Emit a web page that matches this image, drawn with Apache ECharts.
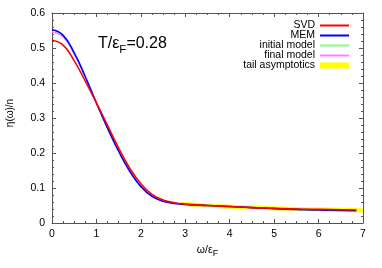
<!DOCTYPE html>
<html><head><meta charset="utf-8">
<script src="https://cdn.jsdelivr.net/npm/echarts@6/dist/echarts.min.js"></script>
<style>html,body{margin:0;padding:0;background:#fff}#c{width:382px;height:268px}</style>
</head><body><div id="c"></div>
<script>
var omega = [0,0.25,0.5,0.75,1.0,1.25,1.5,1.75,2.0,2.25,2.5,2.75,3.0,3.5,4.0,4.5,5.0,5.5,6.0,6.5,6.85];
var svd   = [0.522,0.508,0.463,0.405,0.343,0.279,0.214,0.157,0.112,0.082,0.066,0.058,0.054,0.050,0.047,0.044,0.042,0.040,0.039,0.038,0.037];
var mem   = [0.552,0.536,0.486,0.418,0.343,0.271,0.205,0.148,0.104,0.076,0.062,0.056,0.053,0.050,0.047,0.044,0.041,0.039,0.037,0.036,0.035];
var finalModel   = [0.546,0.531,0.482,0.415,0.342,0.271,0.206,0.150,0.106,0.078,0.063,0.057,0.053,0.050,0.047,0.044,0.041,0.039,0.038,0.036,0.036];
var initialModel = [0.546,0.531,0.482,0.415,0.342,0.271,0.206,0.150,0.106,0.078,0.063,0.057,0.053,0.050,0.047,0.044,0.041,0.039,0.038,0.036,0.036];
var tailOmega = [2.9,3.0,3.5,4.0,4.5,5.0,5.5,6.0,6.5,7.0];
var tailVals  = [0.055,0.054,0.050,0.047,0.044,0.042,0.040,0.039,0.038,0.036];
var names = ['SVD','MEM','initial model','final model','tail asymptotics'];
var xTicks = [0,1,2,3,4,5,6,7];
var yTicks = [0,0.1,0.2,0.3,0.4,0.5,0.6];

function pairs(xs, ys){ return xs.map(function(x,i){return [x, ys[i]];}); }
var font = 'Liberation Sans, Arial, sans-serif';
var frame = '#555';
var chart = echarts.init(document.getElementById('c'));
function axisCommon(){ return {
  axisLine:{show:true,onZero:false,lineStyle:{color:frame,width:1}},
  axisTick:{show:true,inside:true,length:4,lineStyle:{color:frame}},
  splitLine:{show:false}
};}
var xa = Object.assign(axisCommon(), {type:'value',min:xTicks[0],max:xTicks[xTicks.length-1],interval:1,
  minorTick:{show:true,splitNumber:4,length:2,lineStyle:{color:frame}},
  axisLabel:{color:'#000',fontFamily:font,fontSize:10.5,margin:6},
  name:'ω/ε{s|F}',nameLocation:'middle',nameGap:19,
  nameTextStyle:{color:'#000',fontFamily:font,fontSize:10.5,rich:{s:{fontSize:9,fontFamily:font,padding:[7,0,0,0],color:'#000'}}}});
var xa2 = Object.assign(axisCommon(), {type:'value',position:'top',min:xTicks[0],max:xTicks[xTicks.length-1],interval:1,
  minorTick:{show:true,splitNumber:4,length:2,lineStyle:{color:frame}},axisLabel:{show:false}});
var ya = Object.assign(axisCommon(), {type:'value',min:yTicks[0],max:yTicks[yTicks.length-1],interval:0.1,
  minorTick:{show:true,splitNumber:5,length:2,lineStyle:{color:frame}},
  axisLabel:{color:'#000',fontFamily:font,fontSize:10.5,margin:7,formatter:function(v){return v===0?'0':v.toFixed(1);}},
  name:'η(ω)/n',nameLocation:'middle',nameGap:37,nameRotate:90,
  nameTextStyle:{color:'#000',fontFamily:font,fontSize:10,padding:[0,0,0,10]}});
var ya2 = Object.assign(axisCommon(), {type:'value',position:'right',min:yTicks[0],max:yTicks[yTicks.length-1],interval:0.1,
  minorTick:{show:true,splitNumber:5,length:2,lineStyle:{color:frame}},axisLabel:{show:false}});

function ser(name, data, color, width, z){
  return {name:name,type:'line',data:data,showSymbol:false,symbol:'none',smooth:true,z:z,
    lineStyle:{color:color,width:width},itemStyle:{color:color},xAxisIndex:0,yAxisIndex:0,animation:false};
}
var hide = {opacity:0};
chart.setOption({
  animation:false,
  grid:{left:52,right:19,top:13,bottom:45,containLabel:false,outerBoundsMode:'none'},
  xAxis:[xa,xa2], yAxis:[ya,ya2],
  title:{text:'T/ε{s|F}=0.28',left:98,top:32,padding:0,
    textStyle:{color:'#000',fontFamily:font,fontSize:16,fontWeight:'normal',
      rich:{s:{fontSize:11.5,fontFamily:font,color:'#000',padding:[12,0,0,0]}}}},
  legend:{orient:'vertical',right:27,top:15,align:'right',itemWidth:29,itemHeight:6,itemGap:-1,
    textStyle:{color:'#000',fontFamily:font,fontSize:10.5,lineHeight:7.5},
    data:[
      {name:names[0],itemStyle:hide},
      {name:names[1],itemStyle:hide},
      {name:names[2],itemStyle:hide},
      {name:names[3],itemStyle:hide},
      {name:names[4],icon:'rect'}
    ]},
  series:[
    ser(names[4], pairs(tailOmega, tailVals), '#ffff00', 4, 1),
    ser(names[2], pairs(omega, initialModel), '#80ff80', 1, 2),
    ser(names[3], pairs(omega, finalModel), '#ff80ff', 1.2, 3),
    ser(names[1], pairs(omega, mem), '#0000ff', 1.6, 4),
    ser(names[0], pairs(omega, svd), '#ff0000', 1.6, 5)
  ]
});
</script></body></html>
